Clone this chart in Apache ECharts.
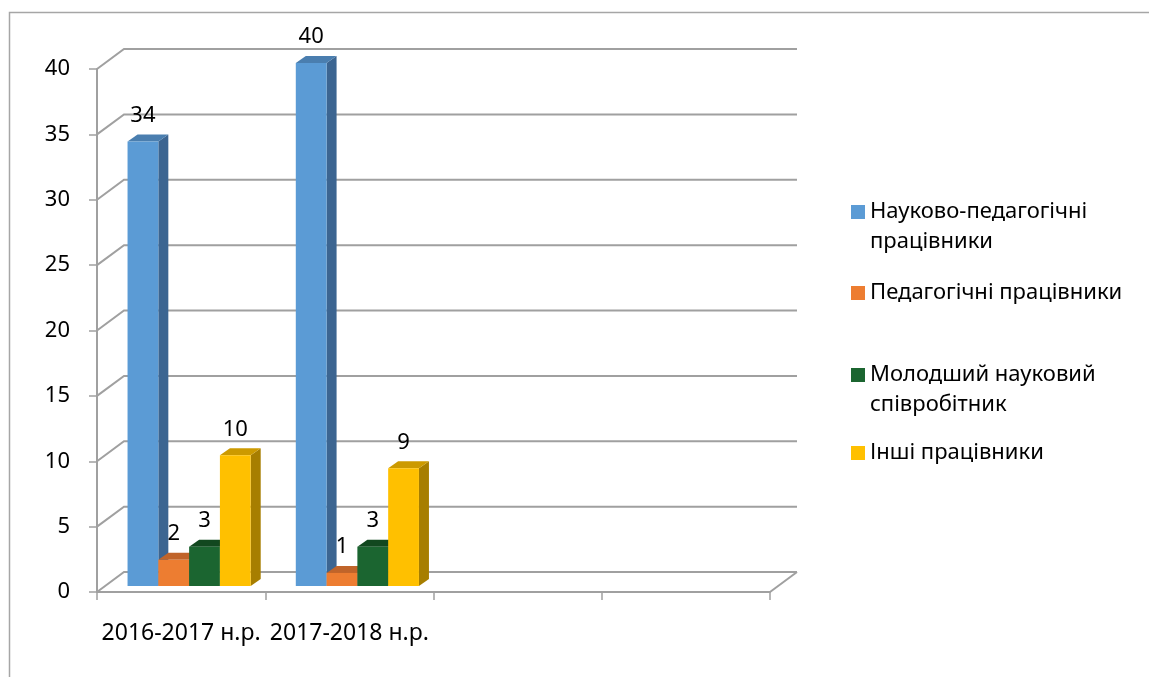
<!DOCTYPE html>
<html>
<head>
<meta charset="utf-8">
<script src="https://cdn.jsdelivr.net/npm/echarts@6/dist/echarts.min.js"></script>
<style>
html, body { margin: 0; padding: 0; background: #fff; }
#chart { width: 1149px; height: 677px; }
</style>
</head>
<body>
<div id="chart"></div>
<script>
// chart data
var categories = ['2016-2017 н.р.', '2017-2018 н.р.', '', ''];
var seriesNames = ['Науково-педагогічні працівники', 'Педагогічні працівники', 'Молодший науковий співробітник', 'Інші працівники'];
// leading empty line keeps the icon level with the first text line
var legendLabels = ['\nНауково-педагогічні\nпрацівники', 'Педагогічні працівники', '\nМолодший науковий\nспівробітник', 'Інші працівники'];
var scientific = [34, 40];
var pedagogical = [2, 1];
var junior = [3, 3];
var others = [10, 9];
var yTicks = [0, 5, 10, 15, 20, 25, 30, 35, 40];

var values = [scientific, pedagogical, junior, others];
var palette = [
  { front: '#5B9BD5', top: '#4A7EAF', side: '#3C6591' },
  { front: '#ED7D31', top: '#C0642A', side: '#A85522' },
  { front: '#1B6530', top: '#12481F', side: '#0F3F1B' },
  { front: '#FFC000', top: '#CC9A00', side: '#A77E00' }
];

var DX = 27, DY = -20;        // depth of the floor / walls
var BX = 8, BY = -6;          // bar plane offset
var BDX = 10, BDY = -7;       // bar depth
var GRID_COLOR = '#a0a0a0';
var FONT = '"Noto Sans", sans-serif';

function barRenderer(k) {
  return function (params, api) {
    var cat = api.value(0), val = api.value(1);
    var band = api.size([1, 0])[0];
    var w = band * 0.183;
    var c = api.coord([cat, val]);
    var b = api.coord([cat, 0]);
    var x = c[0] + BX + (k - 2) * w;
    var yTop = c[1] + BY, yBase = b[1] + BY;
    var col = palette[k];
    return {
      type: 'group',
      children: [
        { type: 'polygon', shape: { points: [[x + w, yTop], [x + w + BDX, yTop + BDY], [x + w + BDX, yBase + BDY], [x + w, yBase]] }, style: { fill: col.side } },
        { type: 'polygon', shape: { points: [[x, yTop], [x + BDX, yTop + BDY], [x + w + BDX, yTop + BDY], [x + w, yTop]] }, style: { fill: col.top } },
        { type: 'rect', shape: { x: x, y: yTop, width: w, height: yBase - yTop }, style: { fill: col.front } },
        { type: 'text', style: { text: String(val), x: x + w / 2, y: yTop - 26, align: 'center', verticalAlign: 'middle', fontSize: 22, fontFamily: FONT, fill: '#000' } }
      ]
    };
  };
}

function wallRenderer(params, api) {
  var cs = params.coordSys;
  var v = api.value(1);
  var y = api.coord([0, v])[1];
  var left = cs.x, right = cs.x + cs.width;
  var st = { stroke: GRID_COLOR, lineWidth: 2, fill: null };
  var children = [
    { type: 'polyline', shape: { points: [[left, y], [left + DX, y + DY], [right + DX, y + DY]] }, style: st }
  ];
  if (v === 0) {
    children.push({ type: 'line', shape: { x1: right, y1: y, x2: right + DX, y2: y + DY }, style: st });
  }
  return { type: 'group', children: children };
}

var series = [{
  type: 'custom',
  name: 'wall',
  silent: true,
  z: 1,
  renderItem: wallRenderer,
  data: yTicks.map(function (v) { return [0, v]; })
}];
values.forEach(function (arr, k) {
  series.push({
    type: 'custom',
    name: seriesNames[k],
    z: 3,
    itemStyle: { color: palette[k].front },
    renderItem: barRenderer(k),
    data: arr.map(function (v, i) { return [i, v]; })
  });
});

var legendTops = [167, 278, 330, 438];
var legends = seriesNames.map(function (name, i) {
  return {
    data: [name],
    orient: 'vertical',
    left: 851,
    top: legendTops[i],
    padding: 0,
    icon: 'rect',
    itemWidth: 14,
    itemHeight: 14,
    formatter: function () { return legendLabels[i]; },
    textStyle: {
      fontSize: 22,
      fontFamily: FONT,
      color: '#000',
      lineHeight: 30
    }
  };
});

var myChart = echarts.init(document.getElementById('chart'));
myChart.setOption({
  animation: false,
  backgroundColor: '#fff',
  graphic: [{
    type: 'rect',
    shape: { x: 9.5, y: 12.5, width: 1300, height: 800 },
    style: { fill: null, stroke: '#a6a6a6', lineWidth: 1.5 },
    silent: true
  }],
  legend: legends,
  grid: { left: 97, top: 69, width: 673, height: 523 },
  xAxis: {
    type: 'category',
    data: categories,
    axisLine: { lineStyle: { color: GRID_COLOR, width: 2 } },
    axisTick: { show: true, length: 8, alignWithLabel: false, lineStyle: { color: GRID_COLOR, width: 1.5 } },
    axisLabel: { color: '#000', fontSize: 23, fontFamily: FONT, margin: 30, interval: 0 },
    splitLine: { show: false }
  },
  yAxis: {
    type: 'value',
    min: 0,
    max: 40,
    interval: 5,
    axisLine: { show: true, lineStyle: { color: GRID_COLOR, width: 2 } },
    axisTick: { show: true, length: 8, lineStyle: { color: GRID_COLOR, width: 1.5 } },
    axisLabel: { color: '#000', fontSize: 22, fontFamily: FONT, margin: 27 },
    splitLine: { show: false }
  },
  series: series
});
</script>
</body>
</html>
